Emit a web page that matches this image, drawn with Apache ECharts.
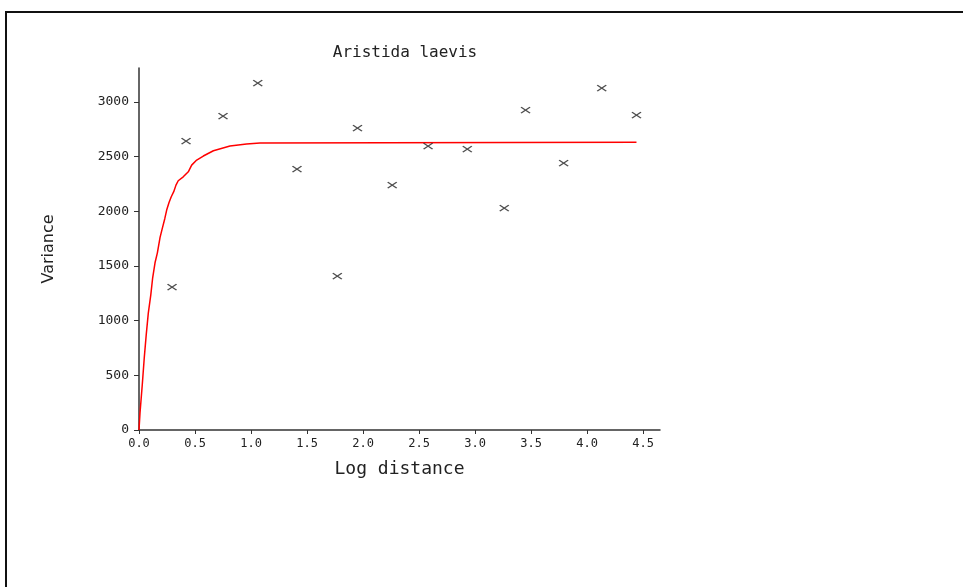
<!DOCTYPE html>
<html>
<head>
<meta charset="utf-8">
<script src="https://cdn.jsdelivr.net/npm/echarts@6/dist/echarts.min.js"></script>
<style>
html,body{margin:0;padding:0;background:#fff;}
#chart{width:963px;height:587px;}
</style>
</head>
<body>
<div id="chart"></div>
<script>
// Observed variance points (log distance, variance)
const pointX = [0.295, 0.42, 0.75, 1.06, 1.41, 1.77, 1.95, 2.26, 2.58, 2.93, 3.26, 3.45, 3.79, 4.13, 4.44];
const pointY = [1307, 2642, 2870, 3172, 2386, 1408, 2760, 2240, 2596, 2569, 2029, 2925, 2441, 3126, 2879];
// Fitted model curve
const curveX = [0, 0.009, 0.029, 0.047, 0.065, 0.083, 0.105, 0.122, 0.143, 0.164, 0.188, 0.208, 0.23, 0.247, 0.268, 0.288, 0.31, 0.33, 0.35, 0.395, 0.44, 0.47, 0.515, 0.574, 0.664, 0.812, 0.96, 1.08, 4.44];
const curveY = [0, 155, 411, 661, 877, 1069, 1234, 1392, 1529, 1620, 1761, 1843, 1932, 2011, 2081, 2133, 2179, 2239, 2279, 2315, 2361, 2422, 2468, 2505, 2553, 2596, 2614, 2625, 2630];
const xTicks = [0, 0.5, 1, 1.5, 2, 2.5, 3, 3.5, 4, 4.5];
const yTicks = [0, 500, 1000, 1500, 2000, 2500, 3000];

const points = pointX.map((x, i) => [x, pointY[i]]);
const curve = curveX.map((x, i) => [x, curveY[i]]);

const chart = echarts.init(document.getElementById('chart'));
chart.setOption({
  animation: false,
  backgroundColor: '#fff',
  title: {
    text: 'Aristida laevis',
    left: 400, top: 40, textAlign: 'center',
    textStyle: {fontFamily: 'DejaVu Sans Mono', fontSize: 16, fontWeight: 'normal', color: '#222'}
  },
  graphic: [
    {type: 'line', shape: {x1: 5, y1: 12, x2: 963, y2: 12}, style: {stroke: '#111', lineWidth: 2}},
    {type: 'line', shape: {x1: 6, y1: 11, x2: 6, y2: 587}, style: {stroke: '#111', lineWidth: 2}}
  ],
  grid: {left: 139, top: 68, right: 303, bottom: 157, containLabel: false},
  xAxis: {
    type: 'value', min: 0, max: 4.65,
    name: 'Log distance', nameLocation: 'middle', nameGap: 30,
    nameTextStyle: {fontFamily: 'DejaVu Sans Mono', fontSize: 18, color: '#222'},
    axisLine: {lineStyle: {color: '#333', width: 1.5}},
    axisTick: {show: true, length: 4, customValues: xTicks, lineStyle: {color: '#333'}},
    axisLabel: {customValues: xTicks, margin: 8, formatter: v => v.toFixed(1),
      fontFamily: 'DejaVu Sans Mono', fontSize: 12, color: '#222'},
    splitLine: {show: false}
  },
  yAxis: {
    type: 'value', min: 0, max: 3310,
    name: 'Variance', nameLocation: 'middle', nameGap: 82, nameRotate: 90,
    nameTextStyle: {fontFamily: 'DejaVu Sans', fontSize: 16, color: '#222'},
    axisLine: {show: true, lineStyle: {color: '#333', width: 1.5}},
    axisTick: {show: true, length: 5, customValues: yTicks, lineStyle: {color: '#333'}},
    axisLabel: {customValues: yTicks, margin: 10, formatter: v => String(v),
      fontFamily: 'DejaVu Sans Mono', fontSize: 13, color: '#222'},
    splitLine: {show: false}
  },
  series: [
    {
      type: 'line', data: curve, showSymbol: false, symbol: 'none',
      lineStyle: {color: '#ff0000', width: 1.5}, z: 2
    },
    {
      type: 'scatter', data: points,
      symbol: 'path://M0,0L10,6M10,0L0,6', symbolSize: [9, 6],
      itemStyle: {color: 'rgba(0,0,0,0)', borderColor: '#222', borderWidth: 1.3},
      z: 3
    }
  ]
});
</script>
</body>
</html>
